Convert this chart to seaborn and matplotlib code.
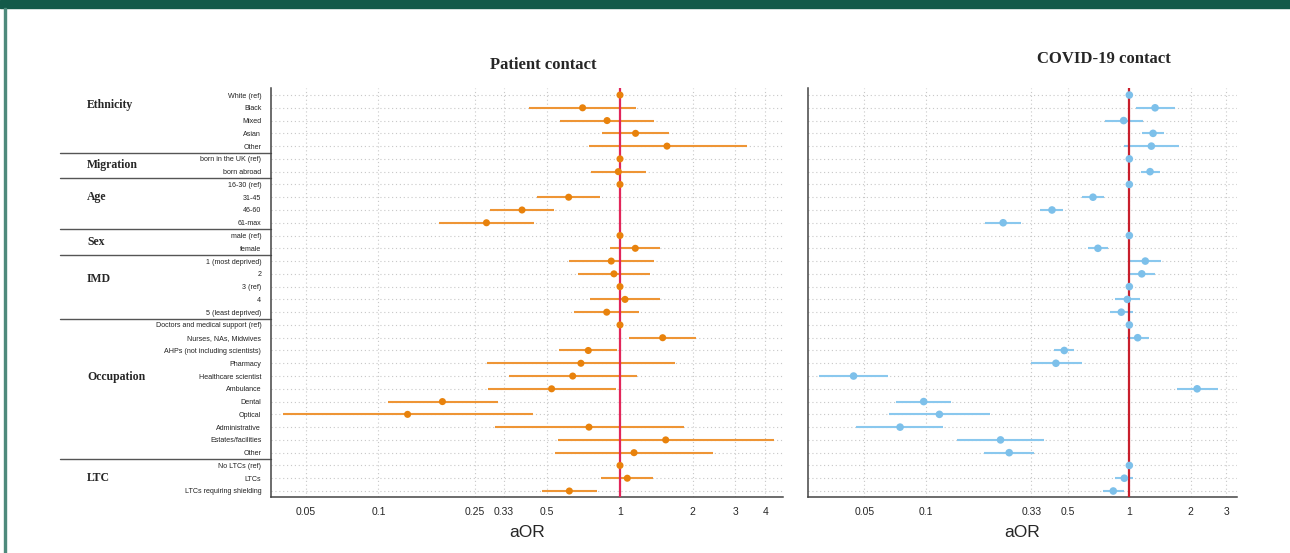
#!/usr/bin/env python
# coding=utf-8
import numpy as np
import pandas as pd
import matplotlib
matplotlib.use('Agg')
import matplotlib.pyplot as plt
from matplotlib.patches import Rectangle
import seaborn as sns


# row labels (top to bottom)
LABELS = ['White (ref)', 'Black', 'Mixed', 'Asian', 'Other',
          'born in the UK (ref)', 'born abroad',
          '16-30 (ref)', '31-45', '46-60', '61-max',
          'male (ref)', 'female',
          '1 (most deprived)', '2', '3 (ref)', '4', '5 (least deprived)',
          'Doctors and medical support (ref)', 'Nurses, NAs, Midwives',
          'AHPs (not including scientists)', 'Pharmacy', 'Healthcare scientist',
          'Ambulance', 'Dental', 'Optical', 'Administrative',
          'Estates/facilities', 'Other',
          'No LTCs (ref)', 'LTCs', 'LTCs requiring shielding']

GROUPS = ['Ethnicity', 'Migration', 'Age', 'Sex', 'IMD', 'Occupation', 'LTC']
GROUP_LABEL_ROW = [0.8, 5.5, 8.0, 11.5, 14.4, 22.1, 30.0]
GROUP_BREAKS = [4.5, 6.5, 10.5, 12.5, 17.5, 28.5]

# patient contact: aOR, lower CI, upper CI
patient_or = [1, 0.70, 0.884, 1.16, 1.565,
              1, 0.984,
              1, 0.613, 0.393, 0.28,
              1, 1.157,
              0.92, 0.944, 1, 1.049, 0.881,
              1, 1.502, 0.739, 0.689, 0.637, 0.521, 0.184, 0.132, 0.744,
              1.546, 1.143,
              1, 1.072, 0.617]
patient_lo = [1, 0.421, 0.565, 0.845, 0.742,
              1, 0.761,
              1, 0.455, 0.290, 0.178,
              1, 0.909,
              0.613, 0.668, 1, 0.751, 0.647,
              1, 1.093, 0.561, 0.282, 0.346, 0.285, 0.109, 0.0403, 0.305,
              0.554, 0.54,
              1, 0.834, 0.477]
patient_hi = [1, 1.17, 1.38, 1.59, 3.35,
              1, 1.28,
              1, 0.826, 0.533, 0.44,
              1, 1.47,
              1.387, 1.33, 1, 1.464, 1.20,
              1, 2.064, 0.975, 1.69, 1.18, 0.96, 0.313, 0.435, 1.835,
              4.33, 2.42,
              1, 1.374, 0.80]

# covid-19 contact: aOR, lower CI, upper CI
covid_or = [1, 1.338, 0.938, 1.308, 1.283,
            1, 1.264,
            1, 0.663, 0.417, 0.24,
            1, 0.701,
            1.198, 1.151, 1, 0.978, 0.913,
            1, 1.099, 0.479, 0.436, 0.0442, 2.153, 0.0977, 0.1167, 0.0748,
            0.233, 0.257,
            1, 0.945, 0.834]
covid_lo = [1, 1.075, 0.76, 1.155, 0.945,
            1, 1.146,
            1, 0.585, 0.365, 0.1965,
            1, 0.629,
            1.008, 0.989, 1, 0.85, 0.804,
            1, 0.978, 0.426, 0.328, 0.0299, 1.71, 0.0712, 0.0658, 0.0454,
            0.142, 0.1935,
            1, 0.853, 0.742]
covid_hi = [1, 1.678, 1.163, 1.48, 1.748,
            1, 1.416,
            1, 0.754, 0.474, 0.293,
            1, 0.782,
            1.427, 1.343, 1, 1.128, 1.038,
            1, 1.254, 0.537, 0.583, 0.0655, 2.74, 0.1337, 0.2064, 0.1222,
            0.383, 0.342,
            1, 1.046, 0.938]

LEFT_TICKS = [0.05, 0.1, 0.25, 0.33, 0.5, 1, 2, 3, 4]
RIGHT_TICKS = [0.05, 0.1, 0.33, 0.5, 1, 2, 3]

ORANGE = '#e8820c'
BLUE = '#7dc0ea'


def draw_panel(ax, df, color, line_color, ref_color, ticks, xlim, size):
    ax.set_xscale('log')
    for r in range(len(df)):
        ax.axhline(r, color='#c8c8c8', lw=0.8, ls=(0, (1, 2.5)), zorder=0)
    for t in ticks:
        ax.axvline(t, color='#c8c8c8', lw=0.8, ls=(0, (1, 2.5)), zorder=0)
    ax.hlines(df['row'], df['lo'], df['hi'], color=line_color, lw=1.5, zorder=2)
    ax.axvline(1, color=ref_color, lw=1.6, zorder=3)
    sns.scatterplot(data=df, x='aor', y='row', color=color, s=size,
                    edgecolor='none', zorder=4, ax=ax, legend=False)
    ax.set_xlim(*xlim)
    ax.set_ylim(31.47, -0.55)
    ax.set_xticks(ticks)
    ax.set_xticklabels([('%g' % t) for t in ticks], fontsize=7.5,
                       family='Liberation Sans')
    ax.minorticks_off()
    ax.set_yticks(df['row'])
    ax.set_xlabel('aOR', fontsize=12.5, family='Liberation Sans', labelpad=6)
    ax.set_ylabel('')
    for side in ['top', 'right']:
        ax.spines[side].set_visible(False)
    for side in ['left', 'bottom']:
        ax.spines[side].set_color('#444444')
        ax.spines[side].set_linewidth(1.1)
    ax.tick_params(axis='both', length=5, width=1, color='#444444', pad=2)


def main():
    sns.set_style('white')
    patient = pd.DataFrame({'row': np.arange(len(LABELS)), 'label': LABELS,
                            'aor': patient_or, 'lo': patient_lo,
                            'hi': patient_hi})
    covid = pd.DataFrame({'row': np.arange(len(LABELS)), 'label': LABELS,
                          'aor': covid_or, 'lo': covid_lo, 'hi': covid_hi})

    fig = plt.figure(figsize=(12.9, 5.53), dpi=100)
    ax1 = fig.add_axes([271 / 1290, 56 / 553, 512 / 1290, 409 / 553])
    ax2 = fig.add_axes([808 / 1290, 56 / 553, 429 / 1290, 409 / 553])

    draw_panel(ax1, patient, ORANGE, '#ee9535', '#e2265a', LEFT_TICKS,
               (0.0359, 4.73), 26)
    draw_panel(ax2, covid, BLUE, '#8ac8ee', '#c81e2c', RIGHT_TICKS,
               (0.0264, 3.38), 30)

    ax1.set_yticklabels(LABELS, fontsize=5.1, family='Liberation Sans',
                        color='#222222')
    ax2.set_yticklabels([])

    # group names and separators on the left
    trans = ax1.get_yaxis_transform()
    x0 = (60 - 271) / 512
    for name, r in zip(GROUPS, GROUP_LABEL_ROW):
        ax1.text((87 - 271) / 512, r, name, transform=trans, ha='left',
                 va='center', fontsize=8.5, fontweight='bold',
                 family='Liberation Serif', clip_on=False)
    for b in GROUP_BREAKS:
        ax1.plot([x0, 0], [b, b], transform=trans, color='#555555', lw=1,
                 clip_on=False)

    fig.text(543 / 1290, 1 - 65 / 553, 'Patient contact', ha='center',
             va='center', fontsize=12, fontweight='bold',
             family='Liberation Serif')
    fig.text(1104 / 1290, 1 - 59 / 553, 'COVID-19 contact', ha='center',
             va='center', fontsize=12, fontweight='bold',
             family='Liberation Serif')

    # page frame
    fig.patches.append(Rectangle((0, 1 - 8 / 553), 1, 8 / 553,
                                 transform=fig.transFigure, color='#135a4a'))
    fig.patches.append(Rectangle((4 / 1290, 0), 2 / 1290, 1 - 8 / 553,
                                 transform=fig.transFigure, color='#4e8a7c'))

    fig.savefig('out.png', dpi=100)


if __name__ == '__main__':
    main()
